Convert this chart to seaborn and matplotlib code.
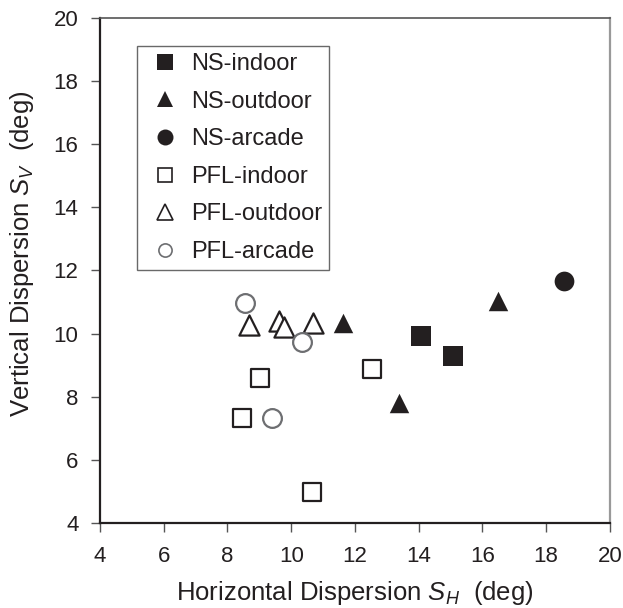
import matplotlib
matplotlib.use("Agg")
import matplotlib.pyplot as plt
import seaborn as sns
import pandas as pd
from matplotlib.lines import Line2D

# ---- data ----
ns_indoor_x = [14.07, 15.07]
ns_indoor_y = [9.91, 9.28]
ns_outdoor_x = [11.63, 13.37, 16.50]
ns_outdoor_y = [10.34, 7.79, 11.03]
ns_arcade_x = [18.56]
ns_arcade_y = [11.68]
pfl_indoor_x = [9.02, 8.46, 10.65, 12.52]
pfl_indoor_y = [8.60, 7.33, 4.98, 8.87]
pfl_outdoor_x = [8.68, 9.63, 9.78, 10.69]
pfl_outdoor_y = [10.27, 10.41, 10.22, 10.34]
pfl_arcade_x = [8.55, 10.34, 9.40]
pfl_arcade_y = [10.98, 9.74, 7.33]

x_ticks = [4, 6, 8, 10, 12, 14, 16, 18, 20]
y_ticks = [4, 6, 8, 10, 12, 14, 16, 18, 20]

sns.set_style("white")
plt.rcParams['font.family'] = ['Liberation Sans', 'DejaVu Sans']
plt.rcParams['mathtext.fontset'] = 'custom'
plt.rcParams['mathtext.rm'] = 'Liberation Sans'
plt.rcParams['mathtext.it'] = 'Liberation Sans:italic'

dark = '#231f20'
gray = '#6d6e71'

fig = plt.figure(figsize=(6.23, 6.08), dpi=100)
ax = fig.add_axes([0.1605, 0.1403, 0.979 - 0.1605, 0.970 - 0.1403])

groups = [
    ("NS-indoor", ns_indoor_x, ns_indoor_y, 's', dark, dark, 14.5, 12),
    ("NS-outdoor", ns_outdoor_x, ns_outdoor_y, '^', dark, dark, 14, 11),
    ("NS-arcade", ns_arcade_x, ns_arcade_y, 'o', dark, dark, 14.2, 11.5),
    ("PFL-indoor", pfl_indoor_x, pfl_indoor_y, 's', 'white', dark, 13, 10.5),
    ("PFL-outdoor", pfl_outdoor_x, pfl_outdoor_y, '^', 'white', dark, 14.5, 11),
    ("PFL-arcade", pfl_arcade_x, pfl_arcade_y, 'o', 'white', gray, 13.5, 9.5),
]

handles = []
labels = []
for name, xs, ys, mk, fc, ec, ms, lms in groups:
    df = pd.DataFrame({"x": xs, "y": ys})
    filled = fc != 'white'
    sns.scatterplot(data=df, x="x", y="y", marker=mk, s=ms**2, color=fc,
                    edgecolor=ec, linewidth=0 if filled else 1.6, ax=ax,
                    zorder=3, legend=False)
    handles.append(Line2D([], [], linestyle='none', marker=mk, markersize=lms,
                          markerfacecolor=fc, markeredgecolor=ec,
                          markeredgewidth=0 if filled else 1.2))
    labels.append(name)

ax.set_xlim(4, 20)
ax.set_ylim(4, 20)
ax.set_xticks(x_ticks)
ax.set_yticks(y_ticks)
ax.tick_params(axis='both', which='major', direction='out', length=6.5, width=1,
               color='#555555', labelsize=16, labelcolor=dark,
               bottom=True, left=True)
ax.tick_params(axis='x', pad=10)
ax.tick_params(axis='y', pad=9)

for side in ['left', 'bottom']:
    ax.spines[side].set_color(dark)
    ax.spines[side].set_linewidth(1.6)
ax.spines['top'].set_color('#555555')
ax.spines['top'].set_linewidth(1.2)
ax.spines['right'].set_color('#999999')
ax.spines['right'].set_linewidth(1.6)

ax.set_xlabel(r"Horizontal Dispersion $S_H$  (deg)", fontsize=18.5, color=dark)
ax.set_ylabel(r"Vertical Dispersion $S_V$  (deg)", fontsize=18.5, color=dark)
ax.xaxis.set_label_coords(0.5, -0.112)
ax.yaxis.set_label_coords(-0.126, 0.533)

leg = ax.legend(handles, labels, loc='upper left', bbox_to_anchor=(0.0725, 0.945),
                fontsize=17, frameon=True, fancybox=False, borderpad=0.3,
                labelspacing=0.66, handlelength=1.8, handletextpad=0.2,
                borderaxespad=0)
leg.get_frame().set_edgecolor('#444444')
leg.get_frame().set_linewidth(1.0)
for t in leg.get_texts():
    t.set_color(dark)

fig.savefig("out.png", dpi=100)
